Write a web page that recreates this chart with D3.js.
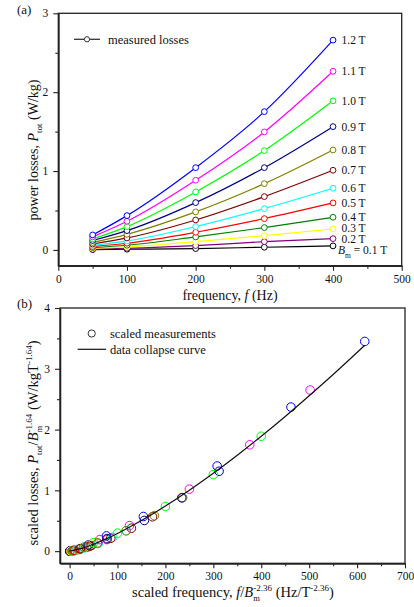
<!DOCTYPE html>
<html lang="en">
<head>
    <meta charset="UTF-8">
    <title>Power losses and data collapse</title>
    <script src="https://d3js.org/d3.v7.min.js"></script>
    <style>
        body { margin: 0; background: #fff; }
        svg, svg text { font-family: "Liberation Serif", "Times New Roman", "DejaVu Serif", serif; }
        text { fill: #111; }
    </style>
</head>
<body>
    <div id="chart"></div>
    <script>
        // ---- data ----
        const freqs = [50, 100, 200, 300, 400];
        const fieldLabels = ["0.1 T", "0.2 T", "0.3 T", "0.4 T", "0.5 T", "0.6 T",
                             "0.7 T", "0.8 T", "0.9 T", "1.0 T", "1.1 T", "1.2 T"];
        const colors = ["#000000", "#800080", "#ffff00", "#008000", "#ff0000", "#00ffff",
                        "#800000", "#808000", "#000080", "#00ff00", "#ff00ff", "#0000ff"];

        // panel (a): measured losses (W/kg), one row per Bm, columns = freqs
        const losses = [
            [0.004, 0.009, 0.017, 0.034, 0.051],
            [0.011, 0.021, 0.055, 0.105, 0.143],
            [0.020, 0.038, 0.106, 0.181, 0.266],
            [0.030, 0.059, 0.165, 0.283, 0.414],
            [0.043, 0.085, 0.224, 0.397, 0.596],
            [0.058, 0.114, 0.296, 0.524, 0.782],
            [0.075, 0.152, 0.380, 0.676, 1.010],
            [0.095, 0.198, 0.482, 0.840, 1.267],
            [0.120, 0.245, 0.600, 1.043, 1.563],
            [0.140, 0.296, 0.735, 1.259, 1.890],
            [0.165, 0.363, 0.883, 1.496, 2.265],
            [0.190, 0.435, 1.043, 1.753, 2.660]
        ];

        // panel (b): scaled frequency and scaled losses, same layout as above
        const scaledF = [
            [0.22, 0.44, 0.87, 1.3, 1.75],
            [1.1, 2.2, 4.5, 6.7, 9.0],
            [2.9, 5.8, 11.7, 17.5, 23.4],
            [5.8, 11.5, 23, 34.5, 46],
            [9.7, 19.5, 39, 58, 78],
            [15, 30, 60, 90, 118],
            [22, 43, 86, 129, 173],
            [30, 59, 118, 177, 236],
            [39, 78, 156, 234, 312],
            [50, 100, 200, 300, 400],
            [63, 125, 250, 376, 502],
            [77, 154, 308, 462, 616]
        ];
        const scaledP = [
            [0.0001, 0.0002, 0.0004, 0.0008, 0.0012],
            [0.0008, 0.0015, 0.004, 0.0075, 0.010],
            [0.003, 0.005, 0.015, 0.025, 0.037],
            [0.007, 0.013, 0.037, 0.063, 0.092],
            [0.014, 0.027, 0.072, 0.127, 0.191],
            [0.025, 0.049, 0.128, 0.227, 0.338],
            [0.042, 0.085, 0.212, 0.377, 0.565],
            [0.066, 0.137, 0.334, 0.583, 0.879],
            [0.100, 0.206, 0.505, 0.877, 1.314],
            [0.140, 0.296, 0.735, 1.259, 1.890],
            [0.190, 0.420, 1.020, 1.750, 2.650],
            [0.250, 0.570, 1.400, 2.370, 3.450]
        ];

        // data collapse curve
        const curveX = [0, 25, 50, 75, 100, 150, 200, 250, 300, 350, 400, 450, 500, 550, 616];
        const curveY = [0, 0.045, 0.114, 0.197, 0.291, 0.503, 0.742, 1.003, 1.282, 1.579, 1.89, 2.216, 2.557, 2.907, 3.387];

        const W = 414, H = 607;
        const axisColor = "#222";
        const serif = "'Liberation Serif', 'Times New Roman', 'DejaVu Serif', serif";

        const svg = d3.select("#chart")
            .append("svg")
            .attr("width", W)
            .attr("height", H)
            .attr("font-family", serif);

        // text with italic / sub / superscript pieces
        function richText(sel, parts) {
            let shift = 0;
            parts.forEach(p => {
                const ts = sel.append("tspan").text(p.t);
                const target = p.sub ? 4 : p.sup ? -6 : 0;
                if (target - shift !== 0) ts.attr("dy", target - shift);
                shift = target;
                if (p.sub || p.sup) ts.style("font-size", p.size || "9px");
                if (p.it) ts.style("font-style", "italic");
                if (p.dx) ts.attr("dx", p.dx);
            });
            return sel;
        }

        // frame + major / minor ticks
        function drawAxes(x, y, xStep, yStep) {
            const [x0, x1] = x.range(), [y0, y1] = y.range();
            const xMajor = d3.range(0, x.domain()[1] + 1e-9, xStep);
            const xMinor = d3.range(0, x.domain()[1] + 1e-9, xStep / 2).filter(v => !xMajor.includes(v));
            const yMajor = d3.range(0, y.domain()[1] + 1e-9, yStep);
            const yMinor = d3.range(0, y.domain()[1] + 1e-9, yStep / 2).filter(v => !yMajor.includes(v));

            const gx = svg.append("g").attr("transform", `translate(0,${y0})`)
                .call(d3.axisBottom(x).tickValues(xMajor).tickFormat(d3.format("d"))
                    .tickSize(5).tickSizeOuter(0).tickPadding(4));
            svg.append("g").attr("transform", `translate(0,${y0})`)
                .call(d3.axisBottom(x).tickValues(xMinor).tickSize(3).tickSizeOuter(0).tickFormat(""));
            const gy = svg.append("g").attr("transform", `translate(${x0},0)`)
                .call(d3.axisLeft(y).tickValues(yMajor).tickFormat(d3.format("d"))
                    .tickSize(5).tickSizeOuter(0).tickPadding(5));
            svg.append("g").attr("transform", `translate(${x0},0)`)
                .call(d3.axisLeft(y).tickValues(yMinor).tickSize(3).tickSizeOuter(0).tickFormat(""));

            svg.selectAll("g").attr("font-family", serif);
            svg.selectAll(".domain").attr("stroke", axisColor).attr("stroke-width", 1.3);
            svg.selectAll(".tick line").attr("stroke", axisColor).attr("stroke-width", 1.1);
            [gx, gy].forEach(g => g.selectAll("text")
                .style("font-size", "11.5px")
                .attr("fill", "#111"));

            // top and right sides of the box
            svg.append("rect")
                .attr("x", x0).attr("y", y1)
                .attr("width", x1 - x0).attr("height", y0 - y1)
                .attr("fill", "none")
                .attr("stroke", axisColor)
                .attr("stroke-width", 1.3);
        }

        // ================= panel (a) =================
        const xA = d3.scaleLinear().domain([0, 500]).range([58.3, 401.7]);
        const yA = d3.scaleLinear().domain([-0.2, 3]).range([265.7, 13.3]);
        drawAxes(xA, yA, 100, 1);

        const lineA = d3.line()
            .x((d, i) => xA(freqs[i]))
            .y(d => yA(d))
            .curve(d3.curveMonotoneX);

        losses.forEach((row, k) => {
            svg.append("path")
                .attr("d", lineA(row))
                .attr("fill", "none")
                .attr("stroke", colors[k])
                .attr("stroke-width", 1.2);
            svg.selectAll(null)
                .data(row)
                .join("circle")
                .attr("cx", (d, i) => xA(freqs[i]))
                .attr("cy", d => yA(d))
                .attr("r", 2.9)
                .attr("fill", "#fff")
                .attr("stroke", colors[k])
                .attr("stroke-width", 1);
        });

        // field labels at the right end, pushed apart at the bottom
        let prevY = null;
        losses.forEach((row, k) => {
            let ly = yA(row[row.length - 1]) + (k === 0 ? 4 : 0);
            if (prevY !== null) ly = Math.min(ly, prevY - 11);
            prevY = ly;
            const t = svg.append("text")
                .attr("x", k === 0 ? 338 : 341.5)
                .attr("y", ly + 4)
                .style("font-size", "11.5px");
            if (k === 0) {
                richText(t, [{t: "B", it: true}, {t: "m", sub: true, size: "7.5px"}, {t: " = " + fieldLabels[k]}]);
            } else {
                t.text(fieldLabels[k]);
            }
        });

        // legend (a)
        svg.append("line").attr("x1", 74).attr("x2", 100).attr("y1", 39.3).attr("y2", 39.3)
            .attr("stroke", "#333").attr("stroke-width", 1.3);
        svg.append("circle").attr("cx", 87).attr("cy", 39.3).attr("r", 2.6)
            .attr("fill", "#fff").attr("stroke", "#333").attr("stroke-width", 1);
        svg.append("text").attr("x", 108).attr("y", 43.5).style("font-size", "12.5px").text("measured losses");

        // titles (a)
        svg.append("text").attr("x", 17).attr("y", 13.5).style("font-size", "13px").text("(a)");
        svg.append("text").attr("x", 230).attr("y", 299.5).attr("text-anchor", "middle")
            .style("font-size", "14px")
            .call(richText, [{t: "frequency, "}, {t: "f", it: true}, {t: " (Hz)"}]);
        svg.append("text")
            .attr("transform", "translate(38,150) rotate(-90)")
            .attr("text-anchor", "middle")
            .style("font-size", "14px")
            .call(richText, [{t: "power losses, "}, {t: "P", it: true}, {t: "tot", sub: true}, {t: " (W/kg)"}]);

        // ================= panel (b) =================
        const xB = d3.scaleLinear().domain([-20, 700]).range([60, 405]);
        const yB = d3.scaleLinear().domain([-0.2, 4]).range([563.3, 308]);
        drawAxes(xB, yB, 100, 1);

        scaledF.forEach((row, k) => {
            svg.selectAll(null)
                .data(row)
                .join("circle")
                .attr("cx", d => xB(d))
                .attr("cy", (d, i) => yB(scaledP[k][i]))
                .attr("r", 4.3)
                .attr("fill", "none")
                .attr("stroke", colors[k])
                .attr("stroke-width", 1);
        });

        const lineB = d3.line()
            .x((d, i) => xB(curveX[i]))
            .y(d => yB(d))
            .curve(d3.curveMonotoneX);
        svg.append("path")
            .attr("d", lineB(curveY))
            .attr("fill", "none")
            .attr("stroke", "#111")
            .attr("stroke-width", 1.2);

        // legend (b)
        svg.append("circle").attr("cx", 91.7).attr("cy", 333.5).attr("r", 3.6)
            .attr("fill", "none").attr("stroke", "#333").attr("stroke-width", 1);
        svg.append("text").attr("x", 110).attr("y", 337.5).style("font-size", "12.5px").text("scaled measurements");
        svg.append("line").attr("x1", 77.7).attr("x2", 106).attr("y1", 349.3).attr("y2", 349.3)
            .attr("stroke", "#111").attr("stroke-width", 1.2);
        svg.append("text").attr("x", 110).attr("y", 353.5).style("font-size", "12.5px").text("data collapse curve");

        // titles (b)
        svg.append("text").attr("x", 17).attr("y", 307.5).style("font-size", "13px").text("(b)");
        svg.append("text").attr("x", 233).attr("y", 597).attr("text-anchor", "middle")
            .style("font-size", "14.5px")
            .call(richText, [{t: "scaled frequency, "}, {t: "f", it: true}, {t: "/"}, {t: "B", it: true},
                             {t: "m", sub: true, size: "8.5px"}, {t: "-2.36", sup: true, size: "9px", dx: -6.5},
                             {t: " (Hz/T"}, {t: "-2.36", sup: true, size: "9px"}, {t: ")"}]);
        svg.append("text")
            .attr("transform", "translate(38,443) rotate(-90)")
            .attr("text-anchor", "middle")
            .style("font-size", "14.5px")
            .call(richText, [{t: "scaled losses, "}, {t: "P", it: true}, {t: "tot", sub: true}, {t: "/"},
                             {t: "B", it: true}, {t: "m", sub: true, size: "8.5px"},
                             {t: "-1.64", sup: true, size: "9px", dx: -6.5},
                             {t: " (W/kgT"}, {t: "-1.64", sup: true, size: "9px"}, {t: ")"}]);
    </script>
</body>
</html>
